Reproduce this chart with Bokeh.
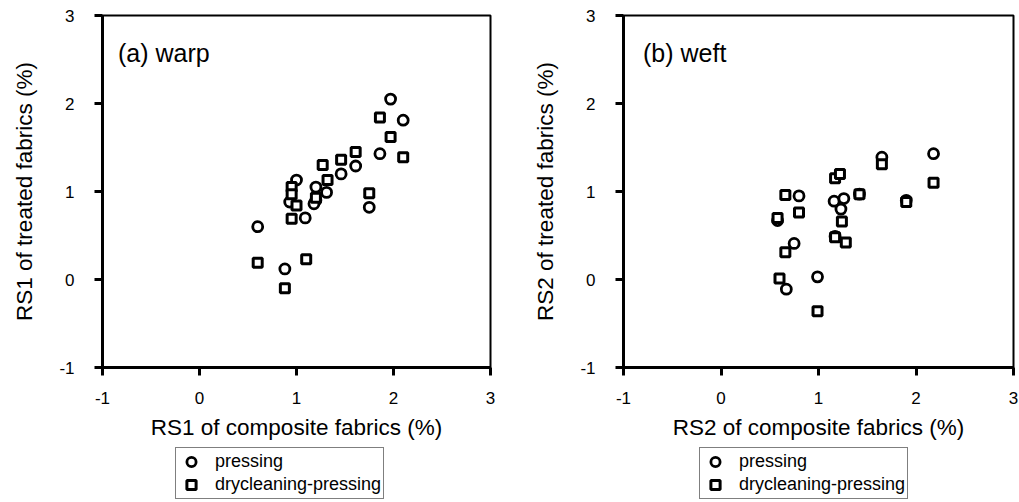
from bokeh.plotting import figure
from bokeh.layouts import row, column
from bokeh.models import Range1d, FixedTicker, Legend, LegendItem, Label, PrintfTickFormatter
from bokeh.embed import file_html
from bokeh.resources import INLINE

# ---- data ----
warp_press_x = [0.60, 0.88, 1.00, 0.93, 1.09, 1.20, 1.20, 1.18, 1.31, 1.46, 1.61, 1.75, 1.86, 1.97, 2.10]
warp_press_y = [0.60, 0.12, 1.13, 0.88, 0.70, 1.05, 0.90, 0.86, 0.99, 1.20, 1.29, 0.82, 1.43, 2.05, 1.81]
warp_dry_x = [0.60, 0.88, 1.10, 0.95, 0.95, 0.95, 1.00, 1.20, 1.27, 1.32, 1.46, 1.61, 1.75, 1.86, 1.97, 2.10]
warp_dry_y = [0.19, -0.10, 0.23, 0.69, 1.05, 0.97, 0.84, 0.93, 1.30, 1.13, 1.36, 1.45, 0.98, 1.84, 1.62, 1.39]

weft_press_x = [0.58, 0.80, 0.75, 0.67, 0.99, 1.16, 1.26, 1.23, 1.42, 1.17, 1.65, 1.90, 2.18]
weft_press_y = [0.67, 0.95, 0.41, -0.11, 0.03, 0.89, 0.92, 0.80, 0.97, 0.49, 1.39, 0.90, 1.43]
weft_dry_x = [0.58, 0.66, 0.80, 0.66, 0.60, 0.99, 1.17, 1.22, 1.24, 1.17, 1.28, 1.42, 1.65, 1.90, 2.18]
weft_dry_y = [0.70, 0.96, 0.76, 0.31, 0.01, -0.36, 1.15, 1.20, 0.66, 0.48, 0.42, 0.97, 1.31, 0.88, 1.10]

ticks = [-1, 0, 1, 2, 3]
series_names = ["pressing", "drycleaning-pressing"]

FONT = "Liberation Sans"
CIRCLE = dict(marker="circle", size=10, line_width=2.8, line_color="black", fill_color="white")
SQUARE = dict(marker="square", size=9, line_width=3, line_color="black", fill_color="white")


def make_panel(px, py, dx, dy, xlabel, ylabel, tag, width, bl, br, tag_x, tag_y, legend_x):
    p = figure(width=width, height=445, output_backend="svg", toolbar_location=None,
               x_range=Range1d(-1, 3), y_range=Range1d(-1, 3),
               min_border_left=bl, min_border_right=br, min_border_top=15,
               min_border_bottom=78)
    p.grid.visible = False
    p.background_fill_color = "white"
    p.border_fill_color = "white"
    p.outline_line_color = "black"
    p.outline_line_width = 2
    p.outline_line_alpha = 1.0

    for ax in (p.xaxis[0], p.yaxis[0]):
        ax.ticker = FixedTicker(ticks=ticks)
        ax.formatter = PrintfTickFormatter(format="%d")
        ax.axis_line_width = 3
        ax.axis_line_color = "black"
        ax.major_tick_line_width = 3
        ax.major_tick_line_color = "black"
        ax.major_tick_out = 8
        ax.major_tick_in = 0
        ax.minor_tick_line_color = None
        ax.major_label_text_font = FONT
        ax.major_label_text_font_size = "17px"
        ax.major_label_text_color = "black"
        ax.axis_label_text_font = FONT
        ax.axis_label_text_font_size = "22.5px"
        ax.axis_label_text_font_style = "normal"
        ax.axis_label_text_color = "black"
    p.xaxis.axis_label = xlabel
    p.yaxis.axis_label = ylabel
    p.yaxis.major_label_standoff = 20
    p.xaxis.major_label_standoff = 16
    p.yaxis.axis_label_standoff = 19
    p.xaxis.axis_label_standoff = 8

    p.scatter(px, py, **CIRCLE)
    p.scatter(dx, dy, **SQUARE)

    p.add_layout(Label(x=tag_x, y=tag_y, text=tag, text_font=FONT, text_font_size="25px",
                       text_baseline="middle", text_color="black"))

    # legend sits in its own strip below the chart; proxies are hidden copies of the series
    lf = figure(width=width, height=57, output_backend="svg", toolbar_location=None,
                x_axis_location=None, y_axis_location=None,
                x_range=Range1d(-1, 3), y_range=Range1d(-1, 3),
                min_border_left=bl, min_border_right=br, min_border_top=0, min_border_bottom=0)
    lf.grid.visible = False
    lf.outline_line_color = None
    lf.background_fill_color = "white"
    lf.border_fill_color = "white"
    g1 = lf.scatter(px, py, visible=False, **CIRCLE)
    g2 = lf.scatter(dx, dy, visible=False, **SQUARE)
    leg = Legend(items=[LegendItem(label=series_names[0], renderers=[g1]),
                        LegendItem(label=series_names[1], renderers=[g2])],
                 location=(legend_x, 3), orientation="vertical")
    leg.inactive_fill_alpha = 0.0
    leg.label_text_font = FONT
    leg.label_text_font_size = "18px"
    leg.label_text_color = "black"
    leg.label_text_line_height = 1.0
    leg.border_line_color = "black"
    leg.border_line_width = 1
    leg.padding = 2
    leg.spacing = 0
    leg.label_height = 18
    leg.glyph_height = 23
    leg.glyph_width = 26
    leg.label_standoff = 11
    leg.margin = 0
    leg.background_fill_color = "white"
    lf.add_layout(leg, "center")
    return column(p, lf, spacing=0)


c1 = make_panel(warp_press_x, warp_press_y, warp_dry_x, warp_dry_y,
                "RS1 of composite fabrics (%)", "RS1 of treated fabrics (%)",
                "(a) warp", 521, 102, 31, -0.84, 2.57, 73)
c2 = make_panel(weft_press_x, weft_press_y, weft_dry_x, weft_dry_y,
                "RS2 of composite fabrics (%)", "RS2 of treated fabrics (%)",
                "(b) weft", 498, 102, 6, -0.80, 2.57, 76)

layout = row(c1, c2, spacing=0)
open("out.html", "w").write(file_html(layout, INLINE))
